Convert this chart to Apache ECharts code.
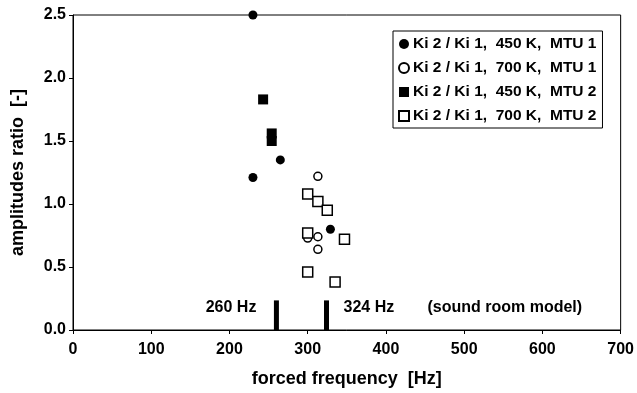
<!DOCTYPE html>
<html>
<head>
<meta charset="utf-8">
<script src="https://cdn.jsdelivr.net/npm/echarts@6/dist/echarts.min.js"></script>
<style>html,body{margin:0;padding:0;background:#fff}#c{width:637px;height:393px}</style>
</head>
<body>
<div id="c"></div>
<script>
// Data: [forced frequency Hz, amplitudes ratio]
var seriesNames = [
  'Ki 2 / Ki 1,  450 K,  MTU 1',
  'Ki 2 / Ki 1,  700 K,  MTU 1',
  'Ki 2 / Ki 1,  450 K,  MTU 2',
  'Ki 2 / Ki 1,  700 K,  MTU 2'
];
var mtu1_450 = [[230, 2.50], [230, 1.21], [265, 1.35], [329, 0.80]];
var mtu1_700 = [[313, 1.22], [300, 0.73], [313, 0.74], [313, 0.64]];
var mtu2_450 = [[243, 1.83], [254, 1.56], [254, 1.50]];
var mtu2_700 = [[300, 1.08], [313, 1.02], [325, 0.95], [300, 0.77], [347, 0.72], [300, 0.46], [335, 0.38]];
// sound room model resonances
var roomFreqs = [260, 324];
var roomBarHeight = [0.235, 0.235];
var roomLabels = ['260 Hz', '324 Hz'];
var roomNote = '(sound room model)';
var xTicks = [0, 100, 200, 300, 400, 500, 600, 700];
var yTicks = [0.0, 0.5, 1.0, 1.5, 2.0, 2.5];

var FONT = '"Liberation Sans", Arial, Helvetica, sans-serif';
var chart = echarts.init(document.getElementById('c'), null, {renderer: 'canvas'});

var roomData = roomFreqs.map(function (f, i) { return [f, roomBarHeight[i], roomLabels[i]]; });

var option = {
  animation: false,
  backgroundColor: '#fff',
  grid: {left: 73, right: 14, top: 15, bottom: 63, show: true, borderColor: '#000', borderWidth: 1, backgroundColor: 'transparent'},
  xAxis: {
    type: 'value', min: xTicks[0], max: xTicks[xTicks.length - 1], interval: 100,
    name: 'forced frequency  [Hz]', nameLocation: 'middle', nameGap: 40,
    nameTextStyle: {fontFamily: FONT, fontWeight: 'bold', fontSize: 18, color: '#000'},
    axisLine: {show: true, lineStyle: {color: '#000', width: 1}},
    axisTick: {show: true, inside: false, length: 4, lineStyle: {color: '#000'}},
    axisLabel: {margin: 12, fontFamily: FONT, fontWeight: 'bold', fontSize: 16, color: '#000'},
    splitLine: {show: false}
  },
  yAxis: {
    type: 'value', min: yTicks[0], max: yTicks[yTicks.length - 1], interval: 0.5,
    name: 'amplitudes ratio  [-]', nameLocation: 'middle', nameGap: 46, nameRotate: 90,
    nameTextStyle: {fontFamily: FONT, fontWeight: 'bold', fontSize: 18, color: '#000'},
    axisLine: {show: true, lineStyle: {color: '#000', width: 1}},
    axisTick: {show: true, inside: false, length: 4, lineStyle: {color: '#000'}},
    axisLabel: {margin: 7, fontFamily: FONT, fontWeight: 'bold', fontSize: 16, color: '#000',
      formatter: function (v) { return v.toFixed(1); }},
    splitLine: {show: false}
  },
  legend: {
    orient: 'vertical', left: 393, top: 31,
    padding: [5, 6, 4, 5], itemGap: 8, itemWidth: 10, itemHeight: 10,
    borderColor: '#000', borderWidth: 1, backgroundColor: '#fff',
    textStyle: {fontFamily: FONT, fontWeight: 'bold', fontSize: 15.5, color: '#000', padding: [0, 0, 0, -1]},
    data: [
      {name: seriesNames[0], icon: 'circle'},
      {name: seriesNames[1], icon: 'circle'},
      {name: seriesNames[2], icon: 'rect'},
      {name: seriesNames[3], icon: 'rect'}
    ]
  },
  series: [
    {
      type: 'custom', name: 'room', clip: false, silent: true,
      data: roomData,
      renderItem: function (params, api) {
        var x = api.value(0), h = api.value(1);
        var p0 = api.coord([x, 0]);
        var p1 = api.coord([x, h]);
        var pt = api.coord([x, 0.18]);
        var children = [{
          type: 'rect',
          shape: {x: p0[0] - 2.5, y: p1[1], width: 5, height: p0[1] - p1[1]},
          style: {fill: '#000'}
        }];
        var label = roomLabels[params.dataIndex];
        if (params.dataIndex === 0) {
          children.push({type: 'text', style: {text: label, x: pt[0] - 20, y: pt[1], align: 'right', verticalAlign: 'middle',
            font: 'bold 16px ' + FONT, fill: '#000'}});
        } else {
          children.push({type: 'text', style: {text: label, x: pt[0] + 17, y: pt[1], align: 'left', verticalAlign: 'middle',
            font: 'bold 16px ' + FONT, fill: '#000'}});
          children.push({type: 'text', style: {text: roomNote, x: pt[0] + 101, y: pt[1], align: 'left', verticalAlign: 'middle',
            font: 'bold 16px ' + FONT, fill: '#000'}});
        }
        return {type: 'group', children: children};
      },
      z: 1
    },
    {
      type: 'scatter', name: seriesNames[0], data: mtu1_450, clip: false,
      symbol: 'circle', symbolSize: 9, itemStyle: {color: '#000', opacity: 1}, z: 3
    },
    {
      type: 'scatter', name: seriesNames[1], data: mtu1_700, clip: false,
      symbol: 'circle', symbolSize: 8, itemStyle: {color: '#fff', borderColor: '#000', borderWidth: 1.5, opacity: 1}, z: 3
    },
    {
      type: 'scatter', name: seriesNames[2], data: mtu2_450, clip: false,
      symbol: 'rect', symbolSize: 10, itemStyle: {color: '#000', opacity: 1}, z: 3
    },
    {
      type: 'scatter', name: seriesNames[3], data: mtu2_700, clip: false,
      symbol: 'rect', symbolSize: 10, itemStyle: {color: '#fff', borderColor: '#000', borderWidth: 1.5, opacity: 1}, z: 3
    }
  ]
};
chart.setOption(option);
</script>
</body>
</html>
